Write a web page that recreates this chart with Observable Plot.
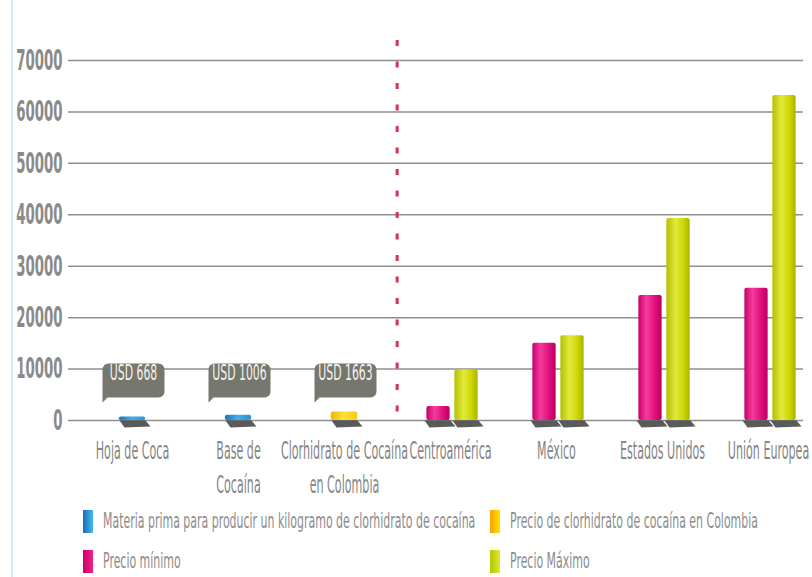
<!DOCTYPE html>
<html><head><meta charset="utf-8">
<script src="https://cdn.jsdelivr.net/npm/d3@7"></script>
<script src="https://cdn.jsdelivr.net/npm/@observablehq/plot@0.6"></script>
<style>
body{margin:0;background:#fff;}
#wrap{position:relative;width:812px;height:577px;overflow:hidden;font-family:"DejaVu Sans Condensed",sans-serif;background:#fff;}
#edge{position:absolute;left:11px;top:0;width:2px;height:577px;background:#d3ebf1;}
#chart{position:absolute;left:0;top:0;}
#legend{position:absolute;left:0;top:500px;width:812px;height:77px;}
.item{position:absolute;height:24px;}
.sw{position:absolute;left:0;top:0;width:10px;height:23px;}
.lt{position:absolute;left:20px;top:0;line-height:23px;font-size:21px;color:#8d8d8d;white-space:nowrap;transform:scaleX(0.58);transform-origin:0 50%;}
</style></head><body>
<div id="wrap"><div id="edge"></div><div id="chart"></div><div id="legend"></div></div>
<script>
// ---- data ----
const categories = ["Hoja de Coca","Base de Cocaína","Clorhidrato de Cocaína en Colombia","Centroamérica","México","Estados Unidos","Unión Europea"];
const tickLabels = ["Hoja de Coca","Base de\nCocaína","Clorhidrato de Cocaína\nen Colombia","Centroamérica","México","Estados Unidos","Unión Europea"];
const colombiaCategories = ["Hoja de Coca","Base de Cocaína","Clorhidrato de Cocaína en Colombia"];
const colombiaValues = [668, 1006, 1663];
const colombiaSeries = ["materia", "materia", "colombia"];
const colombiaLabels = ["USD 668","USD 1006","USD 1663"];
const destinationCategories = ["Centroamérica","México","Estados Unidos","Unión Europea"];
const minPrices = [2700, 15000, 24300, 25700];
const maxPrices = [9800, 16500, 39300, 63200];
const yTicks = [0,10000,20000,30000,40000,50000,60000,70000];
const legendLabels = ["Materia prima para producir un kilogramo de clorhidrato de cocaína","Precio de clorhidrato de cocaína en Colombia","Precio mínimo","Precio Máximo"];
const legendKeys = ["materia","colombia","min","max"];

// ---- styling ----
const gradStops = {
  materia: [["0","#1b74bd"],["0.5","#3fb2e6"],["1","#2a8fd0"]],
  colombia: [["0","#f0b800"],["0.5","#ffe23a"],["1","#f2cc10"]],
  min: [["0","#c8006a"],["0.35","#f43c9c"],["0.7","#e2107f"],["1","#b9005f"]],
  max: [["0","#b4c000"],["0.4","#e2ea3c"],["0.75","#ccd500"],["1","#a8b200"]]
};
const legendGrad = {
  materia: ["#1570b8","#45b8ea"], colombia: ["#f5a300","#ffe000"], min: ["#cc006a","#f0208a"], max: ["#b2c800","#e0e830"]
};
const ns = "http://www.w3.org/2000/svg";
function defsMark() {
  const defs = document.createElementNS(ns, "defs");
  for (const [k, stops] of Object.entries(gradStops)) {
    const g = document.createElementNS(ns, "linearGradient");
    g.setAttribute("id", "g-" + k);
    g.setAttribute("x1", "0"); g.setAttribute("x2", "1"); g.setAttribute("y1", "0"); g.setAttribute("y2", "0");
    for (const [o, c] of stops) {
      const s = document.createElementNS(ns, "stop");
      s.setAttribute("offset", o); s.setAttribute("stop-color", c);
      g.appendChild(s);
    }
    defs.appendChild(g);
  }
  return defs;
}
const calloutSymbol = {
  draw(ctx) {
    const w = 31, h = 17, r = 6;
    ctx.moveTo(-w + r, -h);
    ctx.lineTo(w - r, -h);
    ctx.arcTo(w, -h, w, -h + r, r);
    ctx.lineTo(w, h - r);
    ctx.arcTo(w, h, w - r, h, r);
    ctx.lineTo(-w + 5, h);
    ctx.lineTo(-w, h + 5);
    ctx.lineTo(-w, -h + r);
    ctx.arcTo(-w, -h, -w + r, -h, r);
    ctx.closePath();
  }
};
const shadowSymbol = {
  draw(ctx) {
    ctx.moveTo(-14, 0); ctx.lineTo(12, 0); ctx.lineTo(17, 6); ctx.lineTo(-9, 7); ctx.closePath();
  }
};

const step = (823 - 76) / categories.length;
const minBar = 24;

const chart = Plot.plot({
  width: 812, height: 500,
  marginLeft: 68, marginRight: 9, marginTop: 60, marginBottom: 80,
  style: {fontFamily: '"DejaVu Sans Condensed",sans-serif', background: "transparent"},
  x: {type: "band", domain: categories, range: [76, 823], padding: 0, axis: null},
  y: {domain: [0, 70000], axis: null},
  marks: [
    defsMark,
    Plot.ruleY(yTicks, {stroke: "#8e8e8e", strokeWidth: 1.5}),
    Plot.ruleX(["Centroamérica"], {x: d => d, dx: -step / 2, stroke: "#d63355", strokeWidth: 3, strokeDasharray: "6,15.5", insetTop: -20, insetBottom: -6}),
    Plot.axisY({ticks: yTicks, tickSize: 0, tickPadding: 6, fontSize: 29, fontWeight: "bold", tickFormat: d => String(d), color: "#8a8a8a"}),
    Plot.axisX({tickSize: 0, tickPadding: 14, fontSize: 24, lineHeight: 1.42, tickFormat: d => tickLabels[categories.indexOf(d)], color: "#858585"}),
    // base shadows
    Plot.dot(colombiaCategories, {x: d => d, y: () => 0, dx: 1, symbol: shadowSymbol, r: 1, fill: "#3d3d3d", stroke: null, fillOpacity: 0.85}),
    Plot.dot(destinationCategories, {x: d => d, y: () => 0, dx: -12, symbol: shadowSymbol, r: 1, fill: "#3d3d3d", stroke: null, fillOpacity: 0.85}),
    Plot.dot(destinationCategories, {x: d => d, y: () => 0, dx: 16, symbol: shadowSymbol, r: 1, fill: "#3d3d3d", stroke: null, fillOpacity: 0.85}),
    // colombia chips
    Plot.barY(colombiaCategories, {x: d => d, y: (d, i) => colombiaValues[i], fill: (d, i) => `url(#g-${colombiaSeries[i]})`, insetLeft: (step - 27) / 2, insetRight: (step - 27) / 2, rx: 2}),
    // min / max
    Plot.barY(destinationCategories, {x: d => d, y: (d, i) => minPrices[i], dx: -12, fill: "url(#g-min)", insetLeft: (step - minBar) / 2, insetRight: (step - minBar) / 2, rx: 2}),
    Plot.barY(destinationCategories, {x: d => d, y: (d, i) => maxPrices[i], dx: 16, fill: "url(#g-max)", insetLeft: (step - minBar) / 2, insetRight: (step - minBar) / 2, rx: 2}),
    // callouts
    Plot.dot(colombiaCategories, {x: d => d, frameAnchor: "bottom", dy: -40, dx: 1, symbol: calloutSymbol, r: 1, fill: "#77776e", stroke: null}),
    Plot.text(colombiaCategories, {x: d => d, text: (d, i) => colombiaLabels[i], frameAnchor: "bottom", dy: -41, dx: 1, fill: "#f2f2ee", fontSize: 22})
  ]
});
document.getElementById("chart").appendChild(chart);

// condense the typeface horizontally (the original uses a condensed face)
const scaleFor = {"x-axis tick label": 0.515, "y-axis tick label": 0.51, "text": 0.55};
chart.querySelectorAll("text").forEach(t => {
  const lab = t.parentNode.getAttribute("aria-label");
  const k = scaleFor[lab] || 0.55;
  const tr = t.getAttribute("transform") || "";
  const x = +t.getAttribute("x") || 0;
  t.setAttribute("transform", `${tr} translate(${x},0) scale(${k},1) translate(${-x},0)`);
});

// legend
const legend = document.getElementById("legend");
const pos = [[83, 10], [490, 10], [83, 50], [490, 50]];
legendKeys.forEach((k, i) => {
  const it = document.createElement("div");
  it.className = "item";
  it.style.left = pos[i][0] + "px";
  it.style.top = pos[i][1] + "px";
  const sw = document.createElement("div");
  sw.className = "sw";
  sw.style.background = `linear-gradient(to right, ${legendGrad[k][0]}, ${legendGrad[k][1]})`;
  const lt = document.createElement("div");
  lt.className = "lt";
  lt.textContent = legendLabels[i];
  it.appendChild(sw); it.appendChild(lt);
  legend.appendChild(it);
});
</script>
</body></html>
